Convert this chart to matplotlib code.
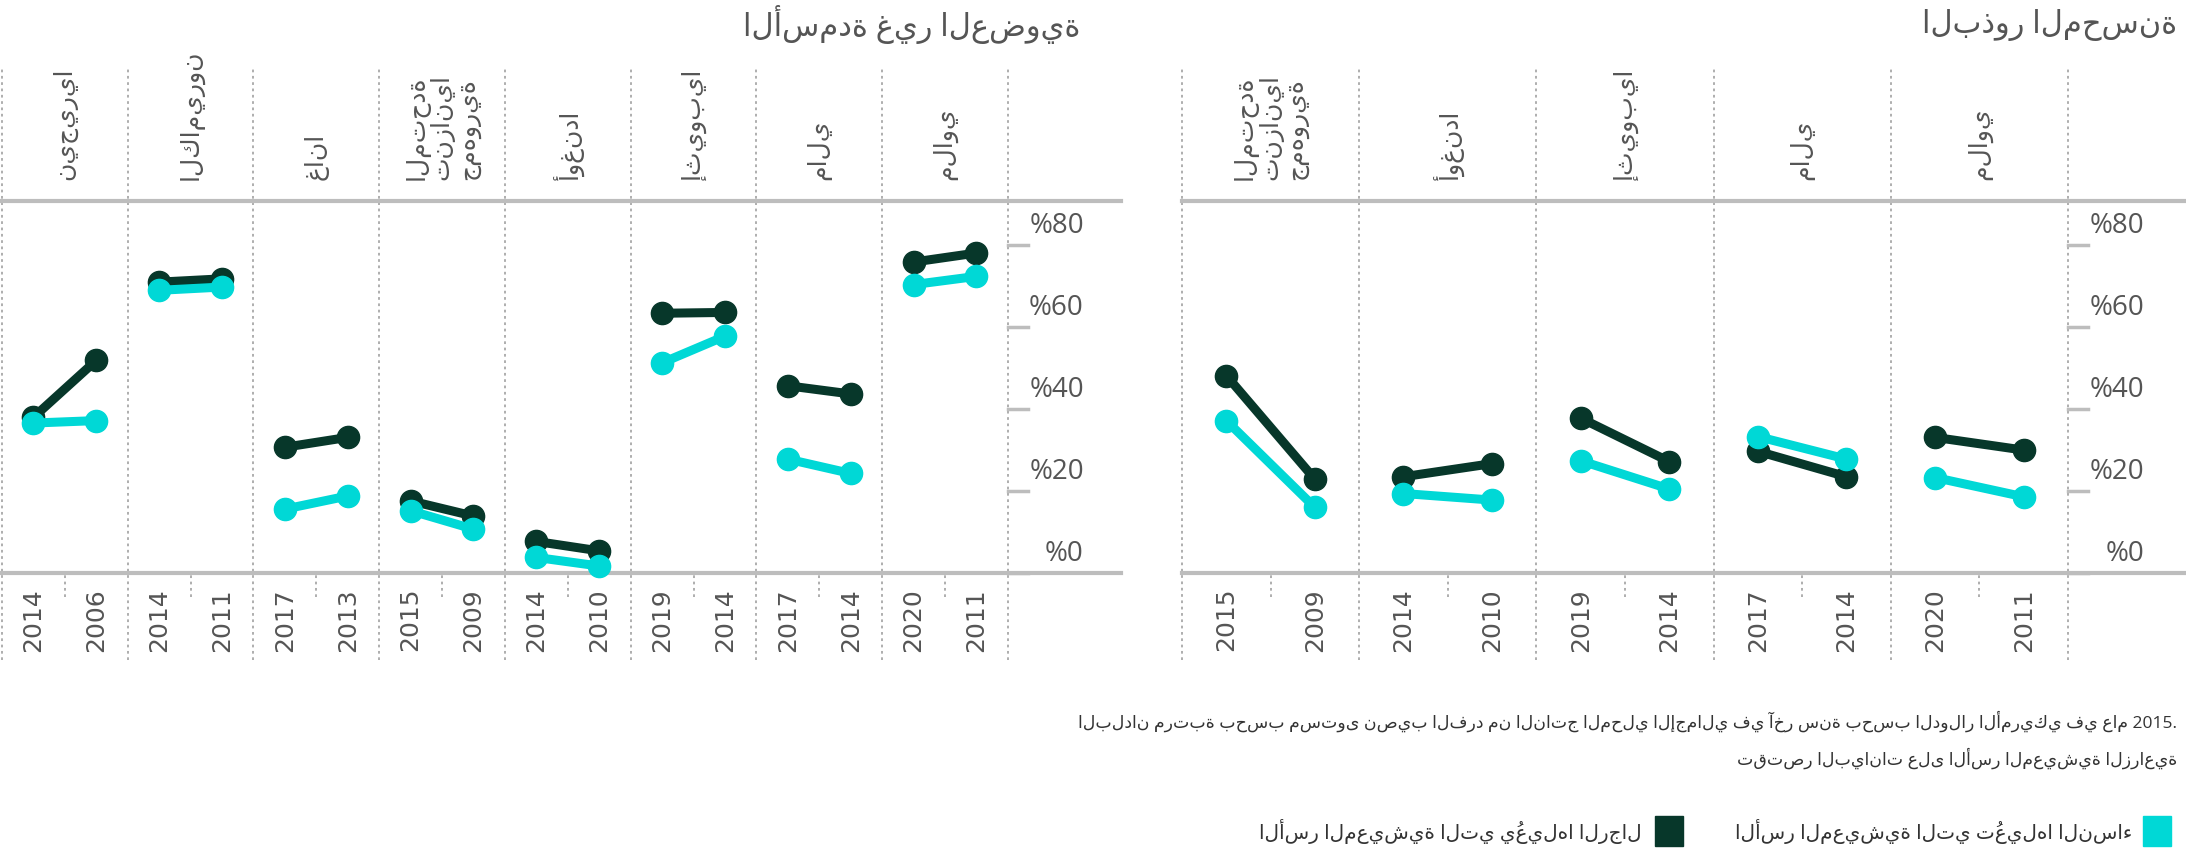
import matplotlib
matplotlib.use('Agg')
import matplotlib.pyplot as plt
from matplotlib.patches import Rectangle
from matplotlib.transforms import offset_copy, blended_transform_factory

plt.rcParams['font.family'] = ['Open Sans', 'DejaVu Sans']

DARK = '#07372a'
CYAN = '#00d8d6'
GREY = '#555555'
LINE = '#bdbdbd'
DOT = '#a8a8a8'

# data, countries ordered right to left, years as (earlier, later)
tanzania = 'المتحدة\nتنزانيا\nجمهورية'

seed_countries = ['ملاوي', 'مالي', 'إثيوبيا', 'أوغندا', tanzania]
seed_years = [(2011, 2020), (2014, 2017), (2014, 2019), (2010, 2014), (2009, 2015)]
seed_women = [(18.6, 23.3), (27.8, 33.3), (20.5, 27.4), (17.8, 19.4), (16.0, 37.2)]
seed_men = [(30.0, 33.1), (23.5, 29.7), (27.2, 37.8), (26.7, 23.5), (22.9, 48.2)]

fert_countries = ['ملاوي', 'مالي', 'إثيوبيا', 'أوغندا', tanzania, 'غانا', 'الكاميرون', 'نيجيريا']
fert_years = [(2011, 2020), (2014, 2017), (2014, 2019), (2010, 2014), (2009, 2015),
              (2013, 2017), (2011, 2014), (2006, 2014)]
fert_women = [(72.4, 70.4), (24.3, 27.8), (57.8, 51.3), (1.7, 3.8), (10.7, 15.2),
              (18.8, 15.6), (69.8, 69.0), (37.2, 36.6)]
fert_men = [(78.1, 75.9), (43.7, 45.7), (63.6, 63.4), (5.4, 7.7), (13.9, 17.6),
            (33.1, 30.7), (71.8, 71.0), (51.9, 38.0)]

y_ticks = [0, 20, 40, 60, 80]

title_seed = 'البذور المحسنة'
title_fert = 'الأسمدة غير العضوية'
note_1 = 'البلدان مرتبة بحسب مستوى نصيب الفرد من الناتج المحلي الإجمالي في آخر سنة بحسب الدولار الأمريكي في عام 2015.'
note_2 = 'تقتصر البيانات على الأسر المعيشية الزراعية'
legend_women = 'الأسر المعيشية التي تُعيلها النساء'
legend_men = 'الأسر المعيشية التي يُعيلها الرجال'

W, H = 2186, 852
fig = plt.figure(figsize=(W / 100, H / 100), dpi=100)


def px_rect(x0, y0, x1, y1):
    return [x0 / W, 1 - y1 / H, (x1 - x0) / W, (y1 - y0) / H]


def draw_panel(ax, countries, years, women, men, pad):
    n = len(countries)
    ax.set_xlim(n, -pad)
    ax.set_ylim(0, 90.8)
    ax.set_xticks([])
    ax.set_yticks([])
    for s in ['left', 'right']:
        ax.spines[s].set_visible(False)
    for s in ['top', 'bottom']:
        ax.spines[s].set_color(LINE)
        ax.spines[s].set_linewidth(3)
    trans = blended_transform_factory(ax.transData, ax.transAxes)
    band_px = ax.get_position().width * W / (n + pad)

    for i in range(n):
        xs = [i + 0.25, i + 0.75]
        ax.plot(xs, men[i], color=DARK, lw=6.5, marker='o', ms=16,
                solid_capstyle='round', clip_on=False, zorder=3)
        ax.plot(xs, women[i], color=CYAN, lw=6.5, marker='o', ms=16,
                solid_capstyle='round', clip_on=False, zorder=4)
        for x, yr in zip(xs, years[i]):
            ax.text(x, -0.04, str(yr), rotation=90, ha='center', va='top',
                    fontsize=18, color=GREY, family=['DejaVu Sans'], transform=trans)
        ax.text(i + 0.5, 1.056, countries[i], rotation=90, ha='center', va='bottom',
                multialignment='left', fontsize=18, color=GREY, linespacing=1.0,
                family=['DejaVu Sans'], transform=trans)
        ax.axvline(i + 0.5, ymin=-0.065, ymax=0, color=DOT, ls=(0, (1.5, 2)),
                   lw=1.3, clip_on=False, zorder=1)

    for e in range(n + 1):
        ax.axvline(e, ymin=-0.234, ymax=1.36, color=DOT, ls=(0, (1.5, 2)),
                   lw=1.3, clip_on=False, zorder=1)

    tick_len = 20 / band_px
    lab_x = 76 / band_px
    lab_trans = offset_copy(ax.transData, fig=fig, y=5, units='dots')
    for v in y_ticks:
        ax.plot([0, -tick_len], [v, v], color=LINE, lw=2.5, clip_on=False, zorder=2)
        ax.text(-lab_x, v, '%' + str(v), ha='right', va='bottom', fontsize=20,
                color=GREY, transform=lab_trans)


ax_fert = fig.add_axes(px_rect(2, 201, 1121, 573))
ax_seed = fig.add_axes(px_rect(1182, 201, 2186, 573))

draw_panel(ax_fert, fert_countries, fert_years, fert_women, fert_men, 0.9)
draw_panel(ax_seed, seed_countries, seed_years, seed_women, seed_men, 0.666)

# titles
fig.text(2177 / W, 1 - 25 / H, title_seed, ha='right', va='center', fontsize=22, color=GREY)
fig.text(1080 / W, 1 - 25 / H, title_fert, ha='right', va='center', fontsize=22, color=GREY)

# notes
fig.text(2177 / W, 1 - 721 / H, note_1, ha='right', va='center', fontsize=12.5, color='#333333')
fig.text(2177 / W, 1 - 758 / H, note_2, ha='right', va='center', fontsize=12.5, color='#333333')

# legend
fig.patches.append(Rectangle((2143 / W, 1 - 846 / H), 28 / W, 30 / H, color=CYAN,
                             transform=fig.transFigure, figure=fig))
fig.text(2132 / W, 1 - 831 / H, legend_women, ha='right', va='center', fontsize=14.5, color='#333333')
fig.patches.append(Rectangle((1655 / W, 1 - 846 / H), 28 / W, 30 / H, color=DARK,
                             transform=fig.transFigure, figure=fig))
fig.text(1642 / W, 1 - 831 / H, legend_men, ha='right', va='center', fontsize=14.5, color='#333333')

fig.savefig('out.png', dpi=100)
